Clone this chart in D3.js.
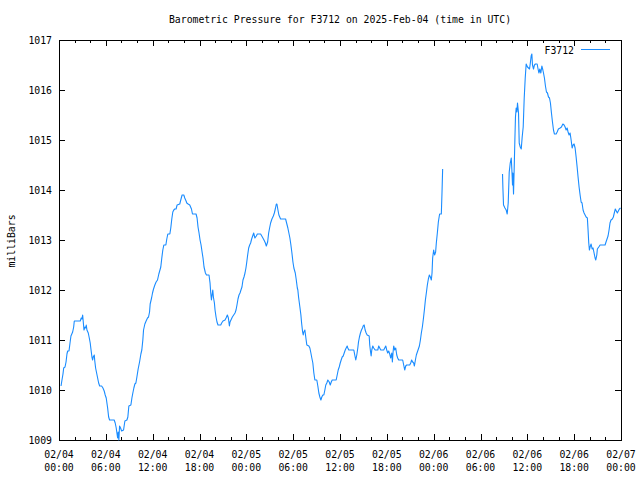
<!DOCTYPE html>
<html><head><meta charset="utf-8">
<script src="https://cdn.jsdelivr.net/npm/d3@7"></script>
<style>body{margin:0;background:#fff}svg{display:block}text{font-family:"DejaVu Sans Mono","Liberation Mono",monospace;font-size:9.8px;fill:#000}</style>
</head><body><svg id="c" width="640" height="480"></svg>
<script>
const title = "Barometric Pressure for F3712 on 2025-Feb-04 (time in UTC)";
const yLabel = "milliBars";
const seriesName = "F3712";
const startTime = Date.UTC(2025, 1, 4, 0, 0);
const endTime = Date.UTC(2025, 1, 7, 0, 0);
const yTicks = [1009, 1010, 1011, 1012, 1013, 1014, 1015, 1016, 1017];
// hours since 2025-02-04 00:00 UTC
const hours = [0.26,0.38,0.51,0.60,0.77,0.90,1.02,1.11,1.28,1.41,1.53,1.75,1.88,1.96,2.72,2.85,2.94,3.03,3.11,3.20,3.33,3.45,3.49,3.58,3.75,3.88,4.00,4.09,4.22,4.31,4.39,4.52,4.57,4.69,4.82,4.95,5.08,5.21,5.46,5.63,5.79,5.92,6.05,6.23,6.36,6.48,7.07,7.20,7.33,7.42,7.51,7.58,7.67,7.76,7.89,8.02,8.27,8.44,8.70,8.82,8.95,9.21,9.34,9.46,9.59,9.72,9.85,9.98,10.14,10.32,10.49,10.61,10.74,10.83,11.00,11.16,11.34,11.47,11.60,11.68,11.86,11.98,12.11,12.28,12.44,12.62,12.79,13.04,13.17,13.30,13.43,13.69,13.81,13.94,14.20,14.32,14.45,14.58,14.71,14.83,15.00,15.13,15.47,15.60,15.77,15.99,16.11,16.28,16.37,16.54,16.75,16.97,17.10,17.56,17.69,17.81,17.94,18.07,18.20,18.33,18.45,18.58,18.76,18.89,19.22,19.35,19.44,19.53,19.61,19.70,19.78,19.91,19.99,20.12,20.24,20.37,20.72,20.84,21.01,21.27,21.40,21.57,21.70,21.83,21.91,22.09,22.21,22.38,22.55,22.68,22.80,22.93,23.06,23.19,23.31,23.44,23.57,23.70,23.83,23.95,24.04,24.17,24.30,24.43,24.55,24.68,24.81,24.94,25.10,25.28,25.41,25.83,26.05,26.26,26.44,26.56,26.73,26.86,26.98,27.11,27.28,27.46,27.59,27.71,27.84,27.92,28.05,28.17,28.39,29.03,29.16,29.32,29.45,29.58,29.71,29.84,29.97,30.09,30.27,30.40,30.53,30.60,30.69,30.86,30.99,31.08,31.21,31.29,31.37,31.50,31.63,31.75,32.01,32.14,32.27,32.39,32.52,32.65,32.78,33.03,33.16,33.29,33.42,33.55,33.67,33.80,33.93,34.06,34.18,34.31,34.44,34.62,34.75,34.88,35.00,35.51,35.64,35.77,35.90,36.03,36.15,36.28,36.41,36.54,36.67,36.79,36.92,37.00,37.13,37.77,37.89,38.02,38.15,38.28,38.37,38.49,38.62,38.75,38.88,38.97,39.10,39.22,39.35,39.48,39.74,39.81,39.90,39.99,40.07,40.20,40.32,40.50,40.84,40.96,41.09,41.22,41.60,41.73,41.86,41.99,42.11,42.24,42.37,42.50,42.63,42.71,42.80,42.88,43.01,43.14,43.27,43.39,43.52,44.03,44.16,44.29,44.42,44.54,44.93,45.06,45.18,45.31,45.44,45.53,45.66,45.78,45.91,46.04,46.17,46.30,46.42,46.55,46.68,46.81,46.94,47.06,47.19,47.32,47.45,47.58,47.70,47.79,47.87,48.00,48.12,48.25,48.34,48.47,48.60,48.76,48.98,49.07,49.15,
 53.00,
 56.82,56.87,56.95,57.13,57.29,57.42,57.55,57.68,57.81,57.94,58.02,58.10,58.15,58.23,58.32,58.41,58.48,58.57,58.66,58.74,58.87,58.96,59.09,59.22,59.34,59.47,59.60,59.73,59.85,60.02,60.15,60.28,60.37,60.49,60.58,60.66,60.79,60.91,61.04,61.26,61.35,61.48,61.60,61.73,61.86,61.99,62.07,62.19,62.32,62.45,62.58,62.71,62.84,62.96,63.09,63.22,63.35,63.47,63.69,63.82,63.98,64.20,64.37,64.55,64.71,64.84,64.97,65.10,65.22,65.35,65.48,65.61,65.74,65.86,65.99,66.12,66.25,66.38,66.50,66.63,66.76,66.89,67.01,67.14,67.27,67.40,67.53,67.69,67.78,67.87,67.95,68.04,68.17,68.30,68.42,68.55,68.68,68.77,68.90,68.97,69.15,69.32,69.96,70.08,70.21,70.34,70.47,70.59,70.72,70.89,71.02,71.14,71.27,71.40,71.53,71.66,71.79,71.94];
// pressure in millibars (null = missing data)
const pressure = [1010.08,1010.20,1010.32,1010.44,1010.46,1010.56,1010.72,1010.78,1010.78,1010.94,1011.08,1011.16,1011.26,1011.38,1011.38,1011.44,1011.42,1011.50,1011.36,1011.20,1011.26,1011.24,1011.30,1011.20,1011.14,1011.04,1010.94,1010.82,1010.66,1010.60,1010.66,1010.70,1010.60,1010.44,1010.34,1010.24,1010.14,1010.08,1010.08,1010.04,1009.98,1009.90,1009.84,1009.64,1009.46,1009.40,1009.40,1009.34,1009.24,1009.14,1009.04,1009.16,1009.00,1009.28,1009.24,1009.18,1009.20,1009.38,1009.40,1009.46,1009.68,1009.70,1009.84,1009.94,1010.04,1010.12,1010.14,1010.26,1010.42,1010.56,1010.72,1010.80,1011.00,1011.20,1011.32,1011.38,1011.44,1011.46,1011.56,1011.72,1011.84,1011.94,1012.02,1012.10,1012.16,1012.20,1012.32,1012.46,1012.64,1012.80,1012.90,1012.90,1013.02,1013.12,1013.12,1013.24,1013.42,1013.56,1013.60,1013.62,1013.62,1013.70,1013.72,1013.80,1013.90,1013.90,1013.84,1013.78,1013.74,1013.72,1013.70,1013.62,1013.52,1013.52,1013.44,1013.26,1013.14,1013.00,1012.90,1012.76,1012.64,1012.46,1012.34,1012.30,1012.30,1012.14,1011.94,1011.80,1011.90,1012.00,1011.86,1011.74,1011.60,1011.46,1011.36,1011.30,1011.30,1011.34,1011.38,1011.40,1011.44,1011.50,1011.44,1011.28,1011.36,1011.42,1011.46,1011.50,1011.54,1011.60,1011.70,1011.82,1011.90,1011.94,1012.00,1012.06,1012.20,1012.26,1012.34,1012.44,1012.54,1012.70,1012.84,1012.90,1012.94,1013.02,1013.08,1013.14,1013.04,1013.08,1013.12,1013.12,1013.06,1013.00,1012.94,1012.88,1012.96,1013.14,1013.24,1013.34,1013.42,1013.48,1013.54,1013.62,1013.72,1013.72,1013.60,1013.50,1013.42,1013.42,1013.34,1013.24,1013.14,1013.04,1012.90,1012.74,1012.56,1012.44,1012.34,1012.20,1012.04,1012.00,1011.86,1011.66,1011.50,1011.34,1011.16,1011.10,1011.16,1011.20,1011.04,1010.90,1010.88,1010.84,1010.74,1010.64,1010.54,1010.34,1010.20,1010.20,1010.08,1009.94,1009.86,1009.80,1009.86,1009.90,1009.90,1010.00,1010.10,1010.14,1010.20,1010.16,1010.10,1010.16,1010.20,1010.20,1010.30,1010.40,1010.46,1010.54,1010.60,1010.66,1010.68,1010.74,1010.80,1010.84,1010.88,1010.84,1010.80,1010.80,1010.70,1010.60,1010.70,1010.84,1010.96,1011.06,1011.14,1011.20,1011.24,1011.28,1011.30,1011.20,1011.14,1011.10,1011.08,1010.90,1010.78,1010.68,1010.80,1010.88,1010.84,1010.80,1010.80,1010.88,1010.84,1010.80,1010.80,1010.84,1010.88,1010.80,1010.74,1010.78,1010.72,1010.64,1010.74,1010.56,1010.76,1010.88,1010.80,1010.84,1010.70,1010.64,1010.60,1010.60,1010.50,1010.40,1010.48,1010.50,1010.50,1010.54,1010.60,1010.56,1010.54,1010.48,1010.60,1010.70,1010.76,1010.82,1010.88,1011.00,1011.14,1011.26,1011.42,1011.60,1011.80,1011.94,1012.10,1012.22,1012.30,1012.26,1012.20,1012.34,1012.64,1012.80,1012.70,1012.76,1012.94,1013.14,1013.36,1013.52,1013.52,1013.96,1014.42,
 null,
 1014.32,1014.04,1013.70,1013.64,1013.60,1013.52,1013.74,1014.36,1014.54,1014.64,1014.40,1014.10,1014.34,1013.92,1014.46,1015.04,1015.46,1015.64,1015.56,1015.74,1015.54,1014.94,1014.86,1014.82,1015.06,1015.26,1015.84,1016.24,1016.52,1016.46,1016.44,1016.42,1016.52,1016.68,1016.72,1016.50,1016.42,1016.50,1016.52,1016.52,1016.44,1016.34,1016.42,1016.34,1016.48,1016.40,1016.34,1016.24,1016.08,1015.96,1015.94,1015.86,1015.84,1015.74,1015.54,1015.36,1015.20,1015.12,1015.12,1015.16,1015.22,1015.24,1015.26,1015.32,1015.30,1015.26,1015.20,1015.24,1015.16,1015.10,1015.14,1015.00,1014.84,1014.90,1014.92,1014.84,1014.66,1014.46,1014.26,1014.06,1013.90,1013.76,1013.74,1013.60,1013.54,1013.50,1013.46,1013.44,1013.20,1012.94,1012.80,1012.86,1012.92,1012.82,1012.84,1012.74,1012.64,1012.60,1012.70,1012.82,1012.86,1012.90,1012.90,1012.96,1013.02,1013.08,1013.20,1013.34,1013.40,1013.42,1013.46,1013.54,1013.62,1013.58,1013.54,1013.58,1013.62,1013.64];

const data = hours.map((h, i) => ({t: new Date(startTime + h * 3600000), v: pressure[i]}));

const svg = d3.select("#c");
const L = 59, R = 621, T = 40, B = 440;
const x = d3.scaleUtc().domain([new Date(startTime), new Date(endTime)]).range([L, R]);
const y = d3.scaleLinear().domain([1009, 1017]).range([B, T]);

const fmtD = d3.utcFormat("%m/%d"), fmtT = d3.utcFormat("%H:%M");
const majorX = d3.utcHour.every(6).range(new Date(startTime), new Date(endTime + 1));
const minorX = d3.utcHour.every(2).range(new Date(startTime), new Date(endTime + 1));

const g = svg.append("g").attr("shape-rendering", "crispEdges");
// frame
g.append("rect").attr("x", L + 0.5).attr("y", T + 0.5).attr("width", R - L).attr("height", B - T)
  .attr("fill", "none").attr("stroke", "#000");

// x ticks (bottom + mirrored top)
minorX.forEach(d => {
  const isMajor = d.getUTCHours() % 6 === 0;
  const len = isMajor ? 6 : 3;
  const xx = Math.round(x(d)) + 0.5;
  g.append("line").attr("x1", xx).attr("x2", xx).attr("y1", B).attr("y2", B - len).attr("stroke", "#000");
  g.append("line").attr("x1", xx).attr("x2", xx).attr("y1", T).attr("y2", T + len).attr("stroke", "#000");
});
majorX.forEach(d => {
  const xx = x(d);
  svg.append("text").attr("x", xx).attr("y", 458).attr("text-anchor", "middle").text(fmtD(d));
  svg.append("text").attr("x", xx).attr("y", 471).attr("text-anchor", "middle").text(fmtT(d));
});

// y ticks (left + mirrored right)
yTicks.forEach(v => {
  const yy = Math.round(y(v)) + 0.5;
  g.append("line").attr("x1", L).attr("x2", L + 6).attr("y1", yy).attr("y2", yy).attr("stroke", "#000");
  g.append("line").attr("x1", R).attr("x2", R - 6).attr("y1", yy).attr("y2", yy).attr("stroke", "#000");
  svg.append("text").attr("x", 52).attr("y", y(v) + 3.5).attr("text-anchor", "end").text(v);
});

// title and axis label
svg.append("text").attr("x", 340).attr("y", 23).attr("text-anchor", "middle").text(title);
svg.append("text").attr("transform", "translate(15,241) rotate(-90)").attr("text-anchor", "middle").text(yLabel);

// data line
const line = d3.line().defined(d => d.v !== null).x(d => x(d.t)).y(d => y(d.v));
svg.append("path").datum(data).attr("d", line).attr("fill", "none")
  .attr("stroke", "#1a8cff").attr("stroke-width", 1.1).attr("stroke-linejoin", "round");

// legend
svg.append("text").attr("x", 574).attr("y", 53.5).attr("text-anchor", "end").text(seriesName);
g.append("line").attr("x1", 581).attr("x2", 610).attr("y1", 49.5).attr("y2", 49.5).attr("stroke", "#1a8cff");
</script></body></html>
